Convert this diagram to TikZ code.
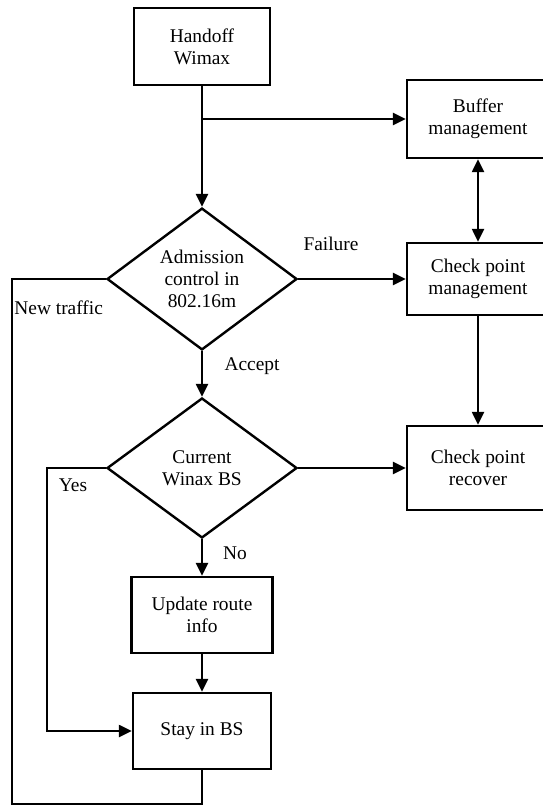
\documentclass[tikz,border=0pt]{standalone}
\usepackage{fontspec}
\setmainfont{Liberation Serif}
\usetikzlibrary{shapes.geometric, arrows.meta}

\begin{document}
\begin{tikzpicture}[x=0.5pt, y=-0.5pt, font=\fontsize{9.7}{11}\selectfont, box/.style={draw, rectangle, align=center, line width=1.2pt, inner sep=0pt}, dec/.style={draw, diamond, align=center, line width=1.2pt, inner sep=0pt, minimum width=95pt, minimum height=70pt}, n/.style={-{Triangle[length=6.5pt, width=6pt]}, line width=1.2pt}, nn/.style={{Triangle[length=6.5pt, width=6pt]}-{Triangle[length=6.5pt, width=6pt]}, line width=1.2pt}, l/.style={line width=1.2pt}]
        \useasboundingbox (0,0) rectangle (542,806);
        % nodes
        \node[box, minimum width=68pt, minimum height=38.5pt] (handoff) at (202,46.5) {Handoff\\Wimax};
        \node[box, minimum width=71pt, minimum height=39pt] (buffer) at (478,119) {Buffer\\management};
        \node[dec] (adm) at (202,279) {Admission\\control in\\802.16m};
        \node[box, minimum width=71pt, minimum height=36pt] (cpm) at (478,279) {Check point\\management};
        \node[box, minimum width=71pt, minimum height=42pt] (cpr) at (478,468) {Check point\\recover};
        \node[dec] (cur) at (202,468) {Current\\Winax BS};
        \node[box, minimum width=70.5pt, minimum height=38pt] (update) at (202,615) {Update route\\info};
        \node[box, minimum width=69pt, minimum height=38pt] (stay) at (202,731) {Stay in BS};
        \coordinate (lp) at (12,804);
        % labels
        \node (failure) at (331,244) {Failure};
        \node[anchor=west, inner sep=0pt] (newtr) at (14,308) {New traffic};
        \node (accept) at (252,366) {Accept};
        \node (yes) at (73,485) {Yes};
        \node (no) at (235,553) {No};
        % edges
        \draw [n] (handoff.south) -- (adm.north);
        \draw [n] (handoff.south |- buffer.west) -- (buffer.west);
        \draw [nn] (buffer.south) -- (cpm.north);
        \draw [n] (adm.east) -- (cpm.west);
        \draw [n] (cpm.south) -- (cpr.north);
        \draw [n] (adm.south) -- (cur.north);
        \draw [n] (cur.east) -- (cpr.west);
        \draw [n] (cur.south) -- (update.north);
        \draw [n] (update.south) -- (stay.north);
        \draw [n] (cur.west) -- ++(-59,0) |- (stay.west);
        \draw [l] (adm.west) -| (lp) -| (stay.south);
    \end{tikzpicture}
\end{document}
